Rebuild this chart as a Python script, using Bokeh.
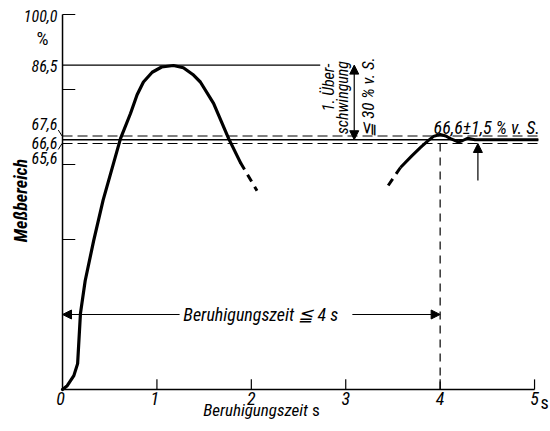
import math
from bokeh.plotting import figure
from bokeh.models import Range1d, Arrow, NormalHead, ColumnDataSource
from bokeh.core.properties import value
from bokeh.embed import file_html
from bokeh.resources import INLINE

# ---------------- data ----------------
x_ticks = [0, 1, 2, 3, 4, 5]
x_tick_labels = ["0", "1", "2", "3", "4", "5"]
y_ticks = [40, 60, 80, 100]
y_levels = [100.0, 86.5, 67.6, 66.6, 65.6]
y_level_labels = ["100,0", "86,5", "67,6", "66,6", "65,6"]

peak_value = 86.5
setpoint = 66.6
band_high = 67.6
band_low = 65.6
settle_time = 4.0

# response curve (time in s, value in % of range)
rise_t = [0, 0.05, 0.12, 0.16, 0.19, 0.24, 0.33, 0.43, 0.54, 0.614, 0.72, 0.79,
          0.857, 0.95, 1.05, 1.175, 1.28, 1.38, 1.46, 1.6, 1.76, 1.885]
rise_v = [0, 1.0, 3.7, 6.9, 20.3, 29.0, 39.7, 50.5, 60.3, 66.9, 73.6, 78.6,
          82.0, 84.6, 86.0, 86.4, 85.8, 84.0, 82.0, 76.3, 66.9, 60.5]
fall_dash_t = [1.885, 2.06]
fall_dash_v = [60.5, 53.0]
return_dash_t = [3.45, 3.58]
return_dash_v = [54.4, 59.2]
settle_t = [3.58, 3.7, 3.79, 3.87, 3.93, 4.0, 4.06, 4.11, 4.19, 4.24, 4.29, 4.37, 4.5, 5.04]
settle_v = [59.2, 62.3, 64.5, 66.3, 67.5, 68.0, 67.6, 66.9, 66.0, 66.4, 67.0, 66.6, 66.6, 66.6]

# ---------------- style ----------------
FONT = "'Roboto Condensed', 'Liberation Sans Narrow', Roboto, sans-serif"
FONT_V = value(FONT)

p = figure(width=550, height=431, output_backend="svg", toolbar_location=None,
           x_range=Range1d(-0.657, 5.169), y_range=Range1d(-11.2, 103.73),
           x_axis_type=None, y_axis_type=None, min_border=0)
p.outline_line_color = None
p.grid.visible = False
p.background_fill_color = "white"

# axes lines
p.segment(x0=[0], y0=[0], x1=[5], y1=[0], line_color="black", line_width=1.5)
p.segment(x0=[0], y0=[0], x1=[0], y1=[100], line_color="black", line_width=1.5)

# x ticks (upward, inside)
xt = x_ticks[1:]
p.segment(x0=xt, y0=[0] * len(xt), x1=xt, y1=[2.7] * len(xt), line_color="black", line_width=1.2)
# y ticks (inward)
p.segment(x0=[0] * len(y_ticks), y0=y_ticks, x1=[0.135] * len(y_ticks), y1=y_ticks,
          line_color="black", line_width=1.2)

# x tick labels
p.text(x=x_ticks, y=[-0.6] * len(x_ticks), text=x_tick_labels, text_font=FONT_V,
       text_font_size="18px", text_font_style="italic", text_align="center",
       text_baseline="top", x_offset=[-2, -2, 0, 0, 0, 0])
p.text(x=[5], y=[-0.6], text=["s"], text_font=FONT_V, text_font_size="18px",
       text_align="left", text_baseline="top", x_offset=[6])

# x title
p.text(x=[2.6], y=[-5.6], text=["Beruhigungszeit"], text_font=FONT_V,
       text_font_size="17px", text_font_style="italic", text_align="right",
       text_baseline="middle")
p.text(x=[2.6], y=[-5.6], text=["s"], text_font=FONT_V, text_font_size="17px",
       text_align="left", text_baseline="middle", x_offset=[4])

# y labels
ylab_src = ColumnDataSource(dict(x=[0] * len(y_levels), y=y_levels, t=y_level_labels,
                                 dy=[2, 1, -12, 3, 15]))
p.text(x="x", y="y", text="t", source=ylab_src, text_font=FONT_V, text_font_size="16px",
       text_font_style="italic", text_align="right", text_baseline="middle",
       x_offset=-5, y_offset="dy")
p.text(x=[0], y=[100.0], text=["%"], text_font=FONT_V, text_font_size="19px",
       text_align="center", text_baseline="middle", x_offset=[-20], y_offset=[24])
# small leader strokes from displaced labels
p.segment(x0=[-0.045, -0.045], y0=[band_high + 1.6, band_low - 1.6],
          x1=[-0.005, -0.005], y1=[band_high, band_low], line_color="black", line_width=1)

# y title
p.text(x=[-0.445], y=[50.4], text=["Meßbereich"], text_font=FONT_V, text_font_size="18px",
       text_font_style="bold italic", text_align="center", text_baseline="middle",
       angle=math.pi / 2)

# reference lines
p.segment(x0=[0], y0=[peak_value], x1=[2.73], y1=[peak_value], line_color="black", line_width=1.2)
p.segment(x0=[0], y0=[setpoint], x1=[5.04], y1=[setpoint], line_color="black", line_width=1.4)
p.segment(x0=[0, 0], y0=[band_high, band_low], x1=[5.04, 5.04], y1=[band_high, band_low],
          line_color="black", line_width=1.2, line_dash="10 5")
p.segment(x0=[settle_time], y0=[band_low], x1=[settle_time], y1=[0], line_color="black",
          line_width=1.2, line_dash="8 6")

# response curve
p.line(rise_t, rise_v, line_color="black", line_width=3.2, line_join="round", line_cap="round")
p.line(fall_dash_t, fall_dash_v, line_color="black", line_width=3, line_dash="8 6")
p.line(return_dash_t, return_dash_v, line_color="black", line_width=3, line_dash="8 6")
p.line(settle_t, settle_v, line_color="black", line_width=3, line_join="round")

# arrows
def arrow(x0, y0, x1, y1, both=False):
    a = Arrow(x_start=x0, y_start=y0, x_end=x1, y_end=y1, line_color="black", line_width=1.2,
              end=NormalHead(size=9, fill_color="black", line_color="black"),
              start=NormalHead(size=9, fill_color="black", line_color="black") if both else None)
    p.add_layout(a)

arrow(3.09, setpoint, 3.09, peak_value, both=True)
arrow(1.24, 20, 0.0, 20)
arrow(3.07, 20, settle_time, 20)
arrow(4.4, 55.7, 4.4, band_low)

# annotation texts
p.text(x=[1.28], y=[20], text=["Beruhigungszeit \u2266 4 s"], text_font=FONT_V,
       text_font_size="18px", text_font_style="italic", text_align="left",
       text_baseline="middle")
p.text(x=[3.93], y=[69.8], text=["66,6\u00b11,5 % v. S."], text_font=FONT_V,
       text_font_size="18px", text_font_style="italic", text_align="left",
       text_baseline="alphabetic")
p.text(x=[2.82, 2.97], y=[86.9, 87.6], text=["1. Über-", "schwingung"], text_font=FONT_V,
       text_font_size="16px", text_font_style="italic", text_align="right",
       text_baseline="middle", angle=math.pi / 2)
p.text(x=[3.24], y=[67.4], text=["\u2266 30 % v. S."], text_font=FONT_V,
       text_font_size="17px", text_font_style="italic", text_align="left",
       text_baseline="middle", angle=math.pi / 2)

open("out.html", "w").write(file_html(p, INLINE))
